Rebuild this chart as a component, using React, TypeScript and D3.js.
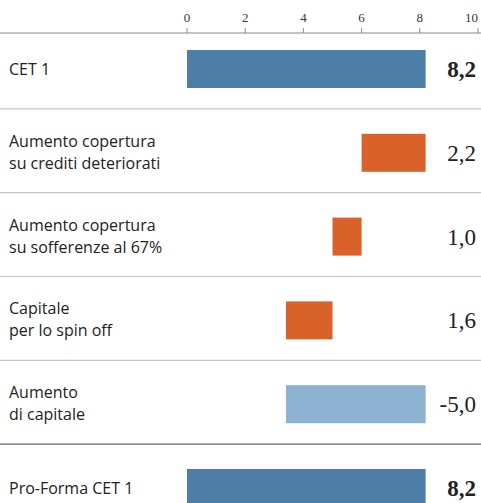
import React from "react";
import { scaleLinear, scalePoint } from "d3";

// rows of the waterfall
const categories = [
  ["CET 1"],
  ["Aumento copertura", "su crediti deteriorati"],
  ["Aumento copertura", "su sofferenze al 67%"],
  ["Capitale", "per lo spin off"],
  ["Aumento", "di capitale"],
  ["Pro-Forma CET 1"],
];
const barStart = [0, 6.0, 5.0, 3.4, 3.4, 0];
const barEnd = [8.2, 8.2, 6.0, 5.0, 8.2, 8.2];
const valueLabels = ["8,2", "2,2", "1,0", "1,6", "-5,0", "8,2"];
const barKinds = ["total", "down", "down", "down", "up", "total"];
const ticks = [0, 2, 4, 6, 8, 10];

const W = 481;
const H = 503;
const colors: Record<string, string> = {
  total: "#4c7ea8",
  down: "#d9622a",
  up: "#8cb1d1",
};

export default function App() {
  const x = scaleLinear().domain([0, 10]).range([187, 478]);
  const y = scalePoint<number>()
    .domain(categories.map((_, i) => i))
    .range([69, 488]);
  const barH = 38;
  const step = y.step();

  return (
    <svg
      width={W}
      height={H}
      style={{ position: "absolute", left: 0, top: 0, background: "#fff" }}
    >
      {/* axis */}
      <line x1={0} x2={W} y1={33} y2={33} stroke="#8a8a8a" strokeWidth={1.2} />
      {ticks.map((t, i) => (
        <g key={t} transform={`translate(${x(t)},0)`}>
          <line y1={28} y2={33} stroke="#8a8a8a" />
          <text
            x={i === ticks.length - 1 ? 0 : 0}
            y={22}
            textAnchor={i === ticks.length - 1 ? "end" : "middle"}
            fontFamily="Liberation Serif"
            fontSize={13}
            fill="#333"
          >
            {t}
          </text>
        </g>
      ))}

      {/* separators */}
      {categories.slice(1).map((_, i) => (
        <line
          key={i}
          x1={0}
          x2={W}
          y1={y(i + 1)! - step / 2 - 2}
          y2={y(i + 1)! - step / 2 - 2}
          stroke={i === categories.length - 2 ? "#666" : "#c4c4c4"}
          strokeWidth={1.2}
        />
      ))}

      {categories.map((lines, i) => {
        const cy = y(i)!;
        return (
          <g key={i}>
            <rect
              x={x(barStart[i])}
              y={cy - barH / 2}
              width={x(barEnd[i]) - x(barStart[i])}
              height={barH}
              fill={colors[barKinds[i]]}
            />
            {lines.map((ln, j) => (
              <text
                key={j}
                x={9}
                y={lines.length === 1 ? cy + 6 : cy - 6 + j * 22}
                fontFamily="Open Sans"
                fontSize={16}
                fill="#222"
              >
                {ln}
              </text>
            ))}
            <text
              x={476}
              y={cy + 8}
              textAnchor="end"
              fontFamily="Liberation Serif"
              fontSize={23}
              fontWeight={barKinds[i] === "total" ? "bold" : "normal"}
              fill="#222"
            >
              {valueLabels[i]}
            </text>
          </g>
        );
      })}
    </svg>
  );
}
